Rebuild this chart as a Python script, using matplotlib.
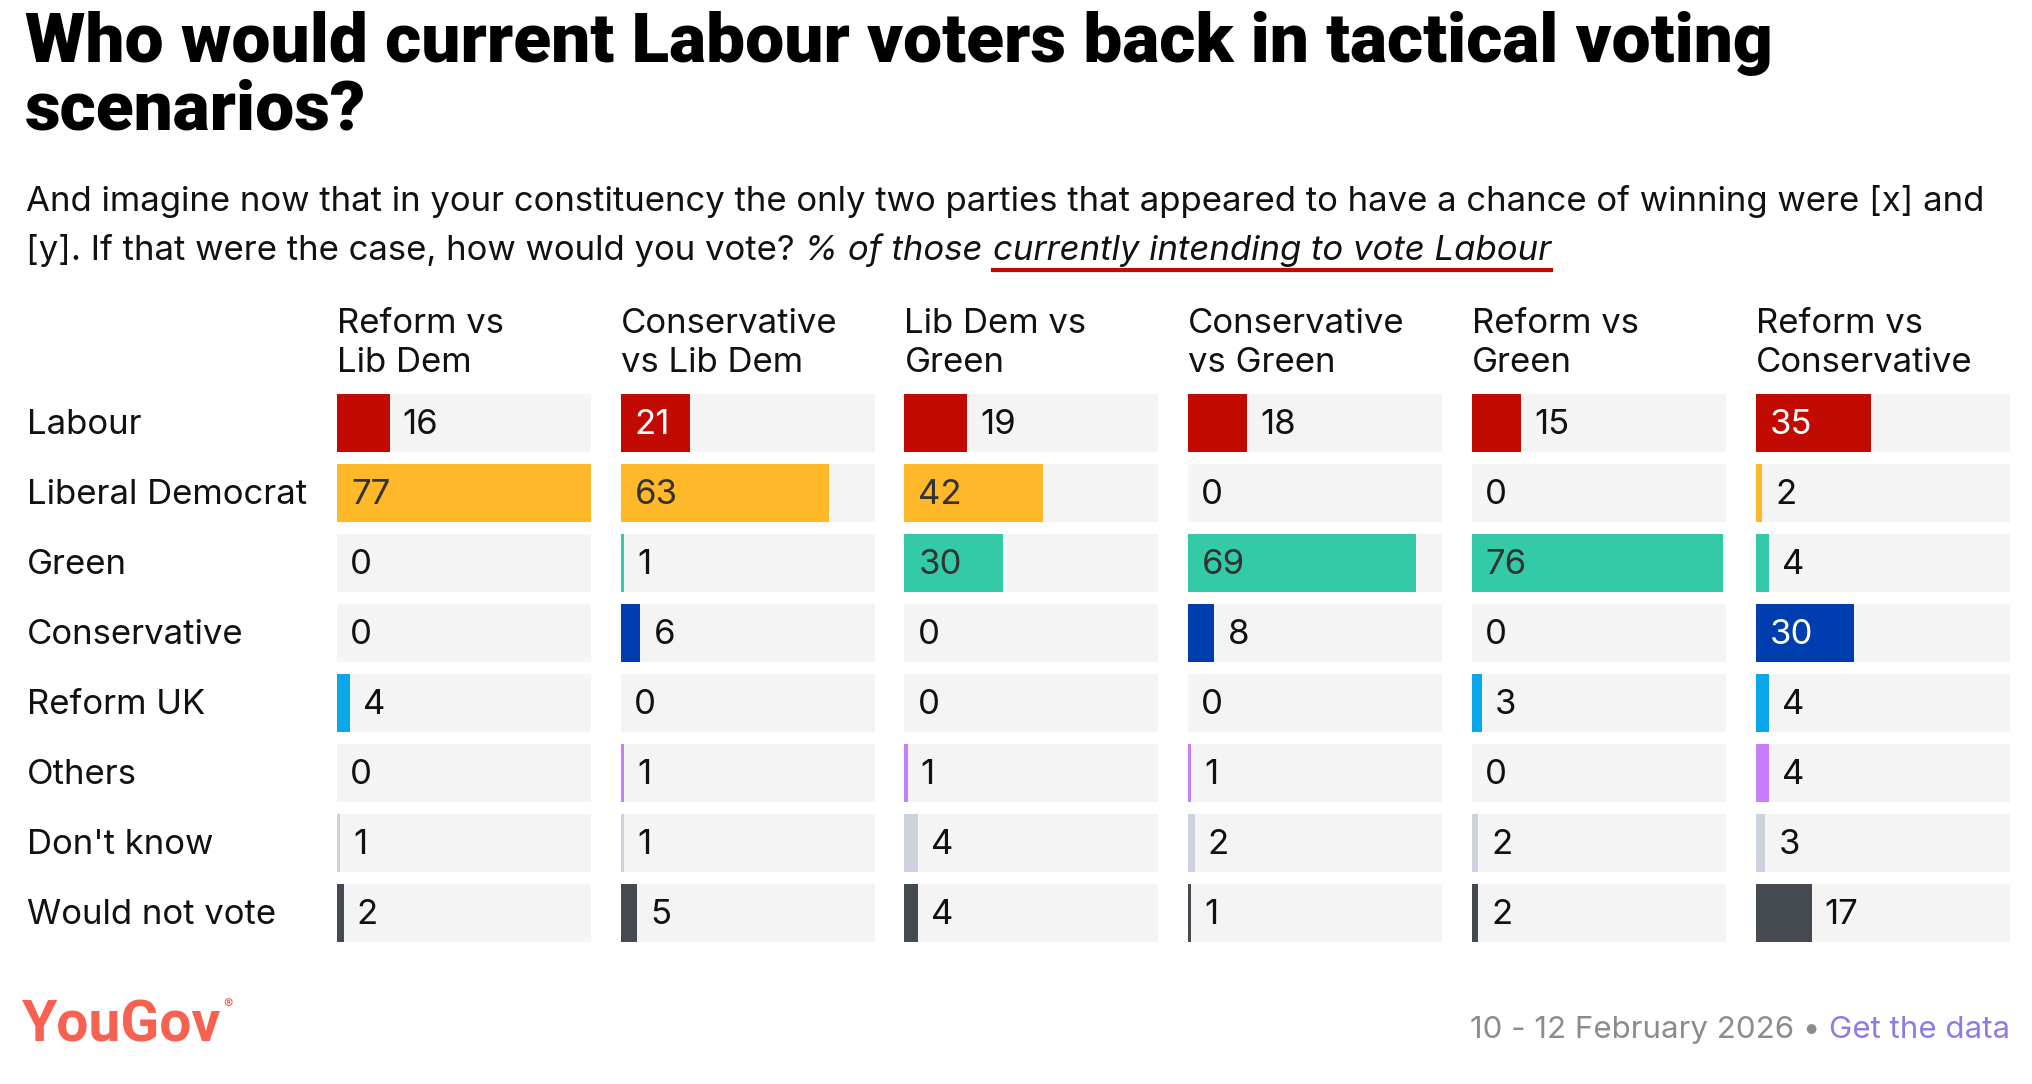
import matplotlib.pyplot as plt
from matplotlib.lines import Line2D

W, H = 2032, 1084
FONT = "Inter"
BODY = 25

title_lines = ["Who would current Labour voters back in tactical voting", "scenarios?"]
subtitle_1 = "And imagine now that in your constituency the only two parties that appeared to have a chance of winning were [x] and"
subtitle_2 = "[y]. If that were the case, how would you vote? "
subtitle_2_italic = "% of those "
subtitle_2_underlined = "currently intending to vote Labour"

scenarios = ["Reform vs\nLib Dem", "Conservative\nvs Lib Dem", "Lib Dem vs\nGreen",
             "Conservative\nvs Green", "Reform vs\nGreen", "Reform vs\nConservative"]
parties = ["Labour", "Liberal Democrat", "Green", "Conservative", "Reform UK",
           "Others", "Don't know", "Would not vote"]

reform_v_libdem = [16, 77, 0, 0, 4, 0, 1, 2]
con_v_libdem = [21, 63, 1, 6, 0, 1, 1, 5]
libdem_v_green = [19, 42, 30, 0, 0, 1, 4, 4]
con_v_green = [18, 0, 69, 8, 0, 1, 2, 1]
reform_v_green = [15, 0, 76, 0, 3, 0, 2, 2]
reform_v_con = [35, 2, 4, 30, 4, 4, 3, 17]
values = [reform_v_libdem, con_v_libdem, libdem_v_green, con_v_green, reform_v_green, reform_v_con]

party_colors = ["#C10B02", "#FFB829", "#33CAA8", "#003DAE", "#0AA8EA", "#C67EFC", "#CDD2DC", "#454950"]
inside_text = ["white", "#333333", "#333333", "white", "#333333", "#333333", "#333333", "white"]

footer_date = "10 - 12 February 2026 • "
footer_link = "Get the data"


def fx(px):
    return px / W


def fy(py):
    return 1 - py / H


fig = plt.figure(figsize=(W / 100, H / 100), dpi=100)
renderer = fig.canvas.get_renderer()

# title and subtitle
for k, line in enumerate(title_lines):
    fig.text(fx(25), fy(62 + 68 * k), line, fontsize=50, fontweight="black", family="Roboto", va="baseline")
fig.text(fx(26), fy(211), subtitle_1, fontsize=BODY, family=FONT, va="baseline", color="#111111")

t = fig.text(fx(26), fy(260), subtitle_2, fontsize=BODY, family=FONT, va="baseline", color="#111111")
x_end = t.get_window_extent(renderer).x1
t = fig.text(x_end / W, fy(260), subtitle_2_italic, fontsize=BODY, family=FONT, style="italic",
             va="baseline", color="#111111")
x_end = t.get_window_extent(renderer).x1
t = fig.text(x_end / W, fy(260), subtitle_2_underlined, fontsize=BODY, family=FONT, style="italic",
             va="baseline", color="#111111")
bb = t.get_window_extent(renderer)
fig.add_artist(Line2D([bb.x0 / W, bb.x1 / W], [fy(270), fy(270)], color="#C10B02", lw=3,
                      transform=fig.transFigure))

# layout of panels (pixels)
panel_left = 337
panel_pitch = 283.7
panel_width = 254
row_top = 394
row_pitch = 70
bar_h = 58
n_rows = len(parties)
top_px = row_top
bottom_px = row_top + row_pitch * (n_rows - 1) + bar_h

# row labels
for i, party in enumerate(parties):
    yc = row_top + i * row_pitch + bar_h / 2 + 2
    fig.text(fx(27), fy(yc), party, fontsize=BODY, family=FONT, va="center", color="#111111")

for j, scen in enumerate(scenarios):
    left = panel_left + j * panel_pitch
    ax = fig.add_axes([fx(left), fy(bottom_px), panel_width / W, (bottom_px - top_px) / H])
    h = bar_h / row_pitch
    ax.barh(range(n_rows), [77] * n_rows, height=h, color="#F4F4F4", left=0)
    ax.barh(range(n_rows), values[j], height=h, color=party_colors)
    ax.set_xlim(0, 77)
    ax.set_ylim(n_rows - 1 + h / 2, -h / 2)
    ax.axis("off")
    unit = 77 / panel_width
    for i, v in enumerate(values[j]):
        if v >= 20:
            ax.text(14 * unit, i + 0.03, str(v), fontsize=BODY, family=FONT, va="center", color=inside_text[i])
        else:
            ax.text(v + 13 * unit, i + 0.03, str(v), fontsize=BODY, family=FONT, va="center", color="#111111")
    for k, line in enumerate(scen.split("\n")):
        fig.text(fx(left), fy(333 + 39 * k), line, fontsize=BODY, family=FONT, va="baseline", color="#111111")

# footer
t = fig.text(fx(22), fy(1042), "YouGov", fontsize=41, fontweight="bold", family="Roboto",
             va="baseline", color="#F6624F")
bb = t.get_window_extent(renderer)
fig.text(bb.x1 / W + 0.001, fy(1010), "®", fontsize=10, family=FONT, va="baseline", color="#F6624F")
t = fig.text(fx(2010), fy(1038), footer_link, fontsize=22.5, family=FONT, va="baseline",
             ha="right", color="#8A7EE6")
x0 = t.get_window_extent(renderer).x0
fig.text(x0 / W, fy(1038), footer_date, fontsize=22.5, family=FONT, va="baseline",
         ha="right", color="#8C8C8C")

fig.savefig("out.png", dpi=100)
